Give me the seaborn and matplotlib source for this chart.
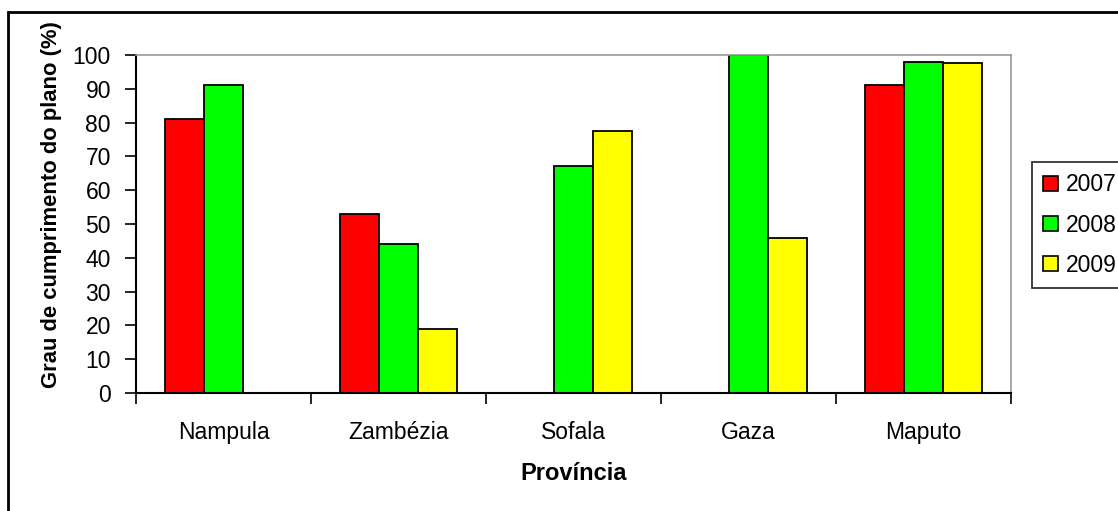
import matplotlib
matplotlib.use("Agg")
import matplotlib.pyplot as plt
import matplotlib.patches as mpatches
import seaborn as sns
import pandas as pd
import numpy as np

# Grau de cumprimento do plano por província e ano (%)
provincias = ["Nampula", "Zambézia", "Sofala", "Gaza", "Maputo"]
anos = ["2007", "2008", "2009"]
valores_2007 = [81, 53, None, None, 91]
valores_2008 = [91, 44, 67.3, 100, 98]
valores_2009 = [None, 18.8, 77.4, 46, 97.5]
cores = ["#FF0000", "#00FF00", "#FFFF00"]

rows = []
for ano, serie in zip(anos, [valores_2007, valores_2008, valores_2009]):
    for prov, v in zip(provincias, serie):
        if v is not None:
            rows.append({"Província": prov, "Ano": ano, "Valor": v})
df = pd.DataFrame(rows)

sns.set_style("white")
plt.rcParams["font.family"] = ["Liberation Sans", "DejaVu Sans"]
plt.rcParams.update({"text.color": "black", "axes.labelcolor": "black",
                     "xtick.color": "black", "ytick.color": "black"})

FS = 16.5
fig = plt.figure(figsize=(11.18, 5.11), dpi=100)
W, H = 1118, 511
ax = fig.add_axes([136 / W, 1 - 393 / H, 875 / W, 338 / H])

sns.barplot(data=df, x="Província", y="Valor", hue="Ano",
            order=provincias, hue_order=anos, palette=cores,
            width=0.67, errorbar=None, edgecolor="black", linewidth=1.3,
            saturation=1, ax=ax)

ax.set_ylim(0, 100)
ax.set_xlim(-0.5, len(provincias) - 0.5)
ax.set_yticks(np.arange(0, 101, 10))
ax.tick_params(axis="y", which="major", direction="out", length=8, width=1.2,
               labelsize=FS, pad=10, left=True)
ax.set_xticks(np.arange(len(provincias)))
ax.set_xticklabels(provincias)
ax.tick_params(axis="x", which="major", length=0, labelsize=FS, pad=20)
ax.set_xticks(np.arange(-0.5, len(provincias)), minor=True)
ax.tick_params(axis="x", which="minor", direction="out", length=8, width=1.2,
               bottom=True)

for side in ["left", "bottom"]:
    ax.spines[side].set_color("black")
    ax.spines[side].set_linewidth(1.5)
for side in ["top", "right"]:
    ax.spines[side].set_visible(True)
    ax.spines[side].set_color("#9a9a9a")
    ax.spines[side].set_linewidth(1.2)

ax.set_ylabel("Grau de cumprimento do plano (%)", fontsize=15.8, fontweight="bold")
ax.yaxis.set_label_coords((62 - 136) / 875, (393 - 205) / 338)
ax.set_xlabel("Província", fontsize=FS + 0.5, fontweight="bold")
ax.xaxis.set_label_coords(0.5, (393 - 473) / 338)
ax.xaxis.label.set_verticalalignment("center")

# Legend with small square keys on the right
handles = [mpatches.Patch(facecolor=c, edgecolor="black", linewidth=1.2) for c in cores]
ax.get_legend().remove()
leg = fig.legend(handles, anos, loc="upper left",
                 bbox_to_anchor=(1032 / W, 1 - 162 / H),
                 frameon=True, fancybox=False, fontsize=FS,
                 handlelength=0.62, handleheight=0.62, handletextpad=0.35,
                 labelspacing=0.75, borderpad=0.5, borderaxespad=0)
leg.get_frame().set_edgecolor("black")
leg.get_frame().set_linewidth(1.3)

# Chart area border
fig.add_artist(mpatches.Rectangle((8 / W, -0.1), 1.5, 1 - 12 / H + 0.1,
                                  transform=fig.transFigure, fill=False,
                                  edgecolor="black", linewidth=2, clip_on=False))

fig.savefig("out.png", dpi=100, facecolor="white")
